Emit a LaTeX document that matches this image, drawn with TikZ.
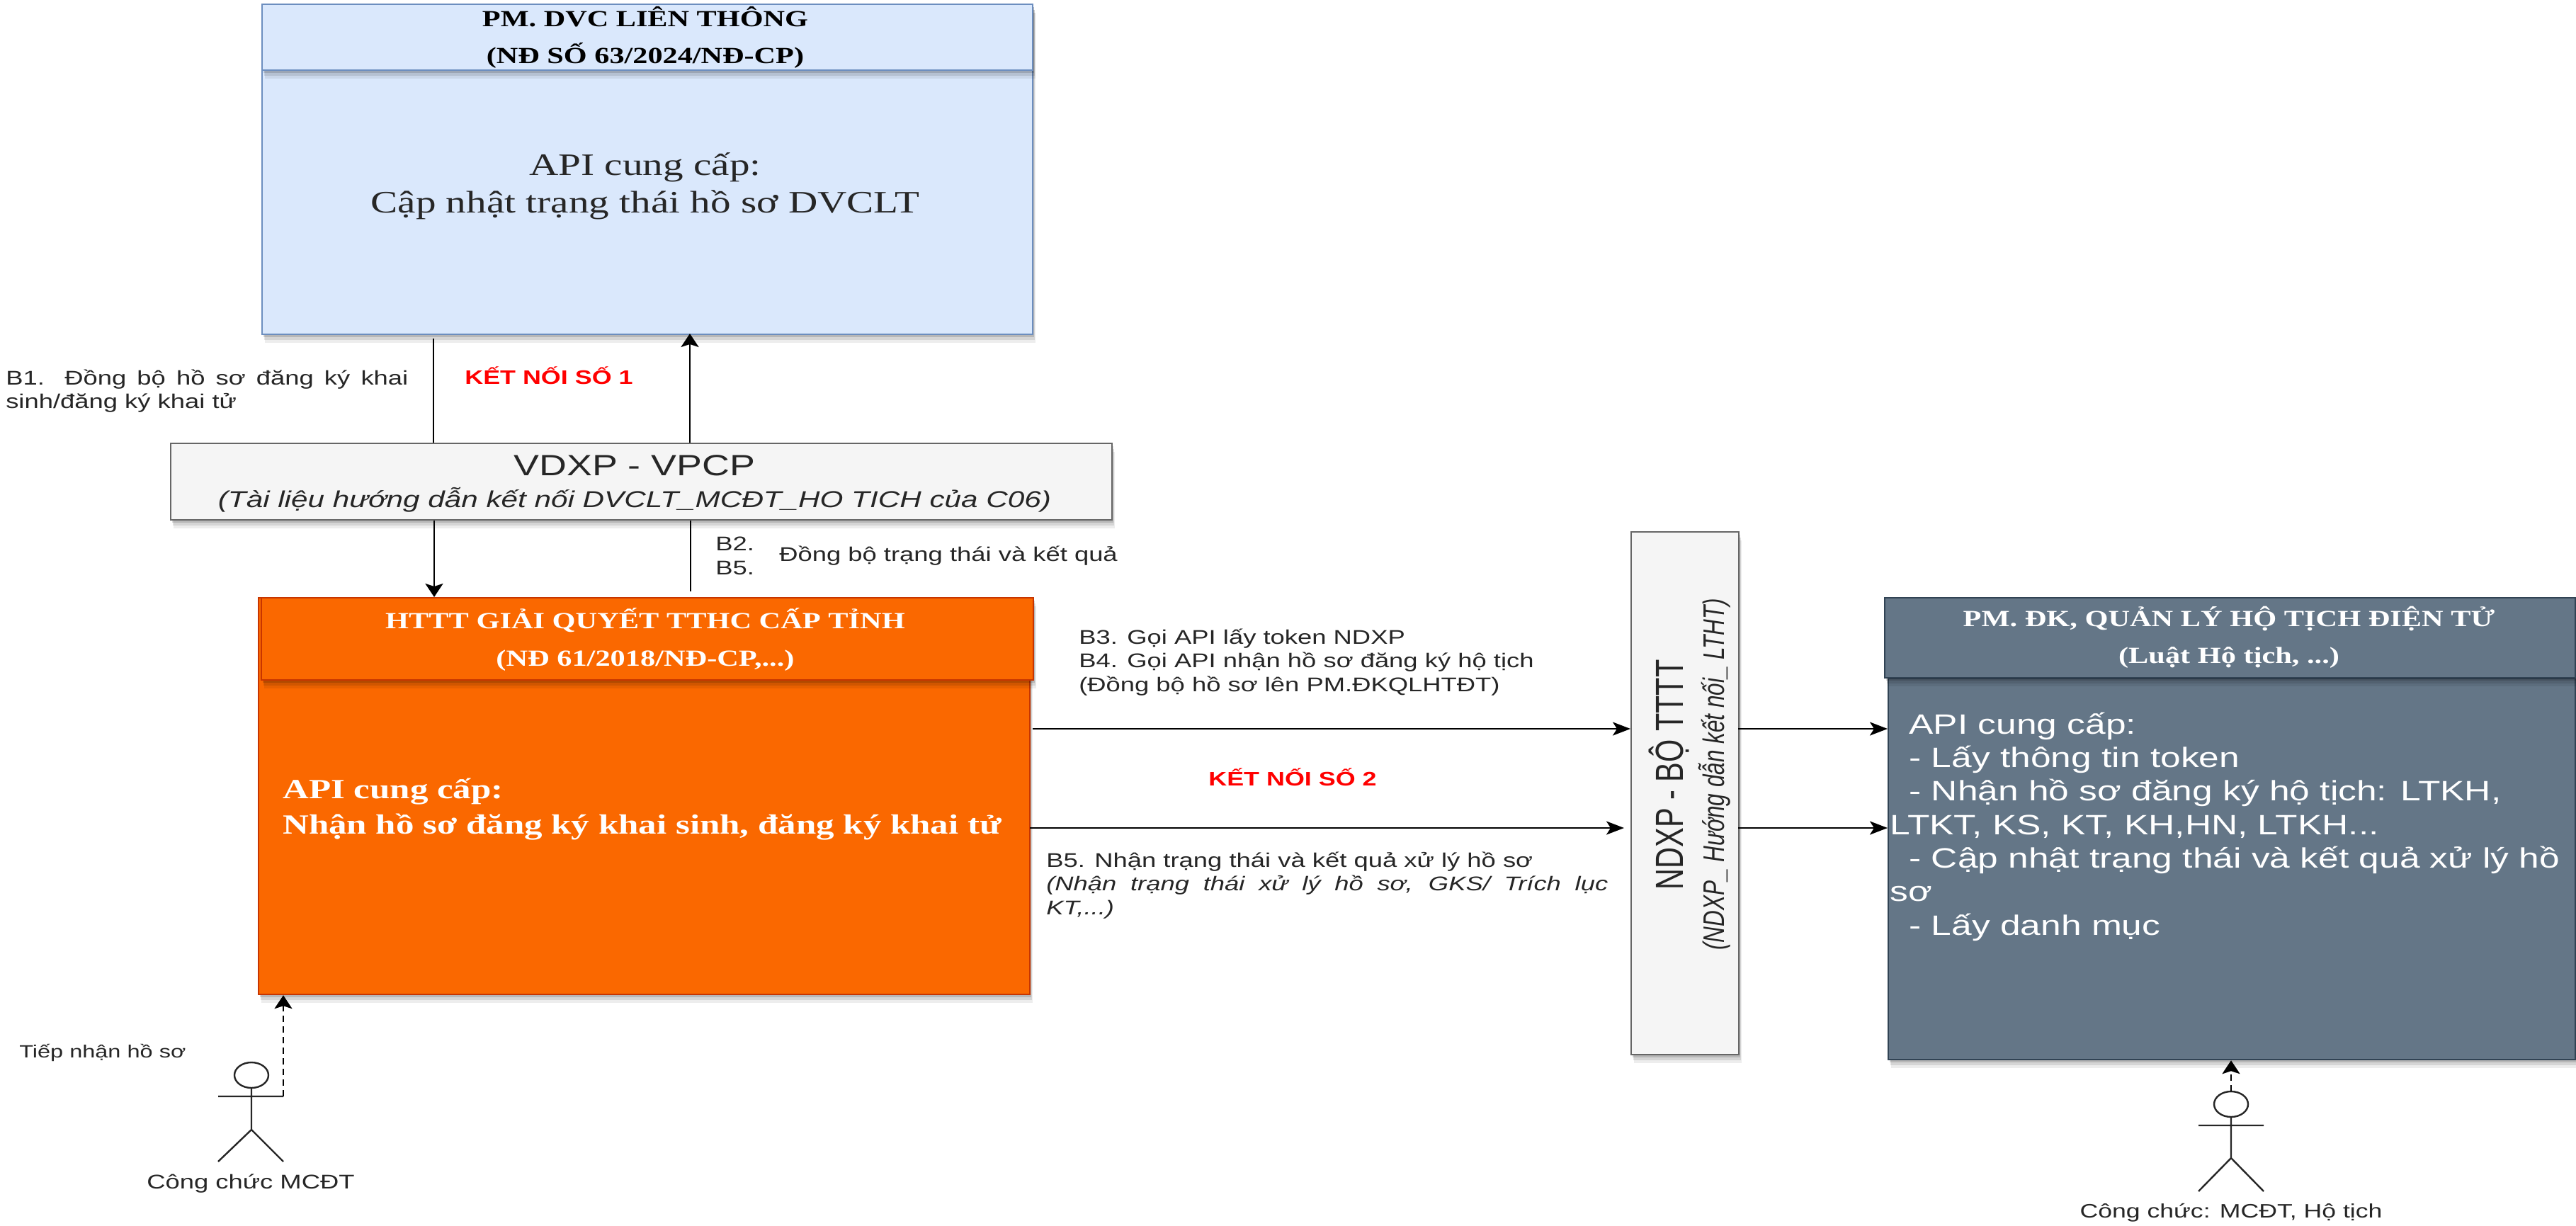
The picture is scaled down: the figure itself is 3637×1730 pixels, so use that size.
\documentclass[tikz,border=0pt]{standalone}
\usepackage{fontspec}
\setmainfont{Liberation Sans}
\newfontfamily\srf{Liberation Serif}
\usetikzlibrary{arrows.meta,shadows,positioning,calc}
\definecolor{bluef}{HTML}{DAE8FC}\definecolor{blues}{HTML}{6C8EBF}
\definecolor{orgf}{HTML}{FA6800}\definecolor{orgs}{HTML}{C73500}
\definecolor{grayf}{HTML}{F5F5F5}\definecolor{grays}{HTML}{666666}
\definecolor{slatef}{HTML}{647687}\definecolor{slates}{HTML}{314354}
\definecolor{ink}{HTML}{262626}
\newcommand{\fs}[1]{\fontsize{#1}{\dimexpr#1pt*6/5\relax}\selectfont}
\newcommand{\fsl}[2]{\fontsize{#1}{#2}\selectfont}
\tikzset{
 x=1pt,y=-1pt,
 shad/.style={
  drop shadow={shadow xshift=4pt,shadow yshift=-12pt,fill=black,opacity=.07},
  drop shadow={shadow xshift=3pt,shadow yshift=-8pt,fill=black,opacity=.10},
  drop shadow={shadow xshift=2pt,shadow yshift=-4pt,fill=black,opacity=.14}},
 boxn/.style={rectangle,draw,line width=2.2pt,inner sep=0pt,anchor=north west,shad},
 tx/.style={xscale=1.3,inner sep=0pt,text=ink,align=left},
 txc/.style={xscale=1.3,inner sep=0pt,text=ink,align=center},
 small/.style={font=\fs{28}},
 link/.style={line width=2.4pt,draw=black},
 headh/.style={-{Stealth[length=25pt,width=19pt,inset=6pt]}},
 headv/.style={-{Stealth[length=19pt,width=25pt,inset=4pt]}},
 actor/.style={line width=2.4pt,draw=ink},
}
\newcommand{\bx}[7]{\node[boxn,draw=#2,fill=#3,minimum width=#6pt,minimum height=#7pt] (#1) at (#4,#5) {};}
\begin{document}
\begin{tikzpicture}
\useasboundingbox (0,0) rectangle (3637,1730);
% boxes
\bx{blue}{blues}{bluef}{369}{5}{1088}{466}
\bx{blueh}{blues}{bluef}{369}{5}{1088}{93}
\bx{vd}{grays}{grayf}{240}{625}{1329}{108}
\bx{org}{orgs}{orgf}{364}{843}{1089}{560}
\bx{orgh}{orgs}{orgf}{368}{843}{1090}{116}
\bx{nd}{grays}{grayf}{2302}{750}{152}{738}
\bx{sl}{slates}{slatef}{2665}{957}{970}{538}
\bx{slh}{slates}{slatef}{2660}{843}{975}{113}
% box text
\node[txc,font=\srf\bfseries\fsl{32.5}{52},text=black] (t1) at (911,53) {PM. DVC LIÊN THÔNG\\(NĐ SỐ 63/2024/NĐ-CP)};
\node[txc,font=\srf\fsl{44}{53}] (t2) at (911,263) {API cung cấp:\\Cập nhật trạng thái hồ sơ DVCLT};
\node[txc,font=\fs{41.4}] (t3) at (896,657) {VDXP - VPCP};
\node[txc,font=\itshape\fs{32.5}] (t4) at (896,706) {(Tài liệu hướng dẫn kết nối DVCLT\_MCĐT\_HO TICH của C06)};
\node[txc,font=\srf\bfseries\fsl{32.6}{53},text=white] (t5) at (911,903) {HTTT GIẢI QUYẾT TTHC CẤP TỈNH\\(NĐ 61/2018/NĐ-CP,...)};
\node[tx,font=\srf\bfseries\fsl{39.2}{50},text=white,anchor=west] (t6) at (399,1143) {API cung cấp:\\Nhận hồ sơ đăng ký khai sinh, đăng ký khai tử};
\node[txc,font=\srf\bfseries\fsl{32.6}{52},text=white] (t7) at (3147,900) {PM. ĐK, QUẢN LÝ HỘ TỊCH ĐIỆN TỬ\\(Luật Hộ tịch, ...)};
\node[tx,font=\fsl{39.6}{47.3},text=white,anchor=west] (t8) at (2668,1167) {\hspace*{21pt}API cung cấp:\\\hspace*{21pt}- Lấy thông tin token\\\hspace*{21pt}- Nhận hồ sơ đăng ký hộ tịch: LTKH,\\LTKT, KS, KT, KH,HN, LTKH...\\\hspace*{21pt}- Cập nhật trạng thái và kết quả xử lý hồ\\sơ\\\hspace*{21pt}- Lấy danh mục};
\node[inner sep=0pt,text=ink,align=center,xscale=4/3,rotate=90,font=\fs{41.5}] (t9) at (2356,1094) {NDXP - BỘ TTTT};
\node[inner sep=0pt,text=ink,align=center,xscale=4/3,rotate=90,font=\itshape\fs{31.5}] (t10) at (2421,1093) {(NDXP\_ Hướng dẫn kết nối\_ LTHT)};
% labels
\node[tx,small,anchor=west] (l1) at (8,552) {\makebox[437pt][s]{B1. Đồng bộ hồ sơ đăng ký khai}\\sinh/đăng ký khai tử};
\node[txc,font=\bfseries\fs{27.6},text=red] (l2) at (775,530) {KẾT NỐI SỐ 1};
\node[tx,small,anchor=west] (l3) at (1010,785) {B2.\\B5.};
\node[tx,small,anchor=west] (l4) at (1100,785) {Đồng bộ trạng thái và kết quả};
\node[tx,small,anchor=west] (l5) at (1523,935) {B3. Gọi API lấy token NDXP\\B4. Gọi API nhận hồ sơ đăng ký hộ tịch\\(Đồng bộ hồ sơ lên PM.ĐKQLHTĐT)};
\node[txc,font=\bfseries\fs{27.6},text=red] (l6) at (1825,1097) {KẾT NỐI SỐ 2};
\node[tx,small,anchor=west] (l7) at (1477,1250) {B5. Nhận trạng thái và kết quả xử lý hồ sơ\\\textit{\makebox[610pt][s]{(Nhận trạng thái xử lý hồ sơ, GKS/ Trích lục}}\\\textit{KT,...)}};
\node[tx,font=\fs{25},anchor=west] (l8) at (27,1486) {Tiếp nhận hồ sơ};
\node[txc,small] (l9) at (354,1671) {Công chức MCĐT};
\node[txc,font=\fs{27.4}] (l10) at (3150,1712) {Công chức: MCĐT, Hộ tịch};
% connector ends
\coordinate (c1) at (612,478);
\coordinate (c2) at (974,471);
\coordinate (c3) at (613,843);
\coordinate (c4) at (975,835);
\coordinate (c5) at (1458,1029);
\coordinate (c6) at (1454,1169);
\coordinate (c7) at (2454,1029);
\coordinate (c8) at (2454,1169);
\coordinate (c9) at (2293,1169);
% connectors
\draw[link] (c1) -- (c1 |- vd.north);
\draw[link,headv] (c2 |- vd.north) -- (c2);
\draw[link,headv] (c3 |- vd.south) -- (c3);
\draw[link] (c4 |- vd.south) -- (c4);
\draw[link,headh] (c5) -- (c5 -| nd.west);
\draw[link,headh] (c6) -- (c9);
\draw[link,headh] (c7) -- (c7 -| sl.west);
\draw[link,headh] (c8) -- (c8 -| sl.west);
% actors
\coordinate (aL) at (355,1518);
\draw[actor] (aL) ellipse [x radius=24pt,y radius=18pt];
\draw[actor] (355,1536) -- (355,1595) (308,1548) -- (400,1548) (308,1640) -- (355,1595) -- (400,1640);
\coordinate (aLh) at (400,1548);
\draw[link,headv,dashed,dash pattern=on 9pt off 6pt] (aLh) -- (aLh |- org.south);
\coordinate (aR) at (3150,1559);
\draw[actor] (aR) ellipse [x radius=24pt,y radius=18pt];
\draw[actor] (3150,1577) -- (3150,1635) (3104,1589) -- (3196,1589) (3104,1682) -- (3150,1635) -- (3196,1682);
\coordinate (aRh) at (3150,1541);
\draw[link,headv,dashed,dash pattern=on 9pt off 6pt] (aRh) -- (aRh |- sl.south);
\end{tikzpicture}
\end{document}
